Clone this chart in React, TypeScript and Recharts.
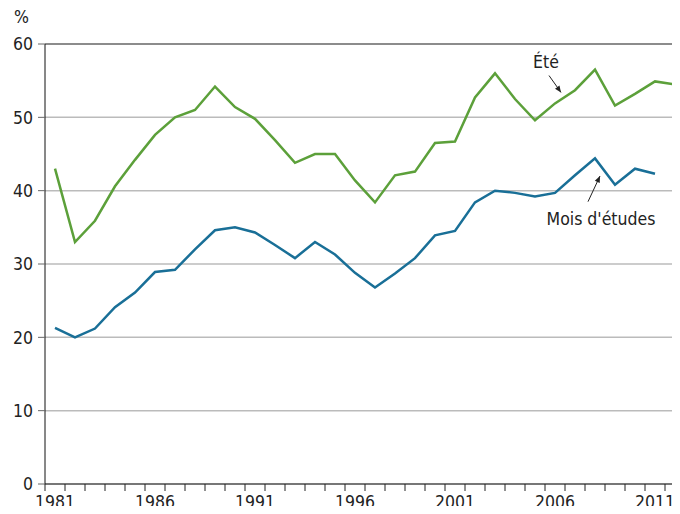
import { LineChart, Line, XAxis, YAxis, CartesianGrid, ReferenceLine, ReferenceDot } from "recharts";

// années de référence
const years = [
  1981, 1982, 1983, 1984, 1985, 1986, 1987, 1988, 1989, 1990, 1991, 1992, 1993, 1994, 1995, 1996,
  1997, 1998, 1999, 2000, 2001, 2002, 2003, 2004, 2005, 2006, 2007, 2008, 2009, 2010, 2011, 2012,
];
const ete = [
  43.0, 33.0, 35.9, 40.6, 44.2, 47.6, 50.0, 51.0, 54.2, 51.4, 49.8, 46.9, 43.8, 45.0, 45.0, 41.4,
  38.4, 42.1, 42.6, 46.5, 46.7, 52.7, 56.0, 52.5, 49.6, 51.9, 53.7, 56.5, 51.6, 53.2, 54.9, 54.5,
];
const moisEtudes = [
  21.3, 20.0, 21.2, 24.1, 26.1, 28.9, 29.2, 32.0, 34.6, 35.0, 34.3, 32.6, 30.8, 33.0, 31.3, 28.8,
  26.8, 28.7, 30.8, 33.9, 34.5, 38.4, 40.0, 39.7, 39.2, 39.7, 42.1, 44.4, 40.8, 43.0, 42.3, null,
];
const yTicks = [0, 10, 20, 30, 40, 50, 60];
const labelYears = [1981, 1986, 1991, 1996, 2001, 2006, 2011];

const data = years.map((year, i) => ({ year, ete: ete[i], mois: moisEtudes[i] }));

const FONT = "'Liberation Sans Narrow', 'DejaVu Sans Condensed', 'Liberation Sans', sans-serif";
const FS = 17.5;
const GREEN = "#5ca03a";
const BLUE = "#196f97";
const W = 690;
const H = 514;
const Y_W = 45;
const RIGHT = 5;
const HALF = (W - Y_W - RIGHT) / years.length / 2;

function YearTick(props: any) {
  const { x, y, payload } = props;
  return (
    <g>
      <line x1={x - HALF} x2={x - HALF} y1={y} y2={y + 7} stroke="#222" strokeWidth={1} />
      {labelYears.includes(payload.value) && (
        <text x={x} y={y + 24} textAnchor="middle" fontFamily={FONT} fontSize={FS} fill="#222">
          {payload.value}
        </text>
      )}
    </g>
  );
}

function Arrow(props: any) {
  const { x1, y1, x2, y2 } = props;
  const a = Math.atan2(y2 - y1, x2 - x1);
  const len = 7;
  const p1 = [x2 - len * Math.cos(a - 0.4), y2 - len * Math.sin(a - 0.4)];
  const p2 = [x2 - len * Math.cos(a + 0.4), y2 - len * Math.sin(a + 0.4)];
  return (
    <g>
      <line x1={x1} y1={y1} x2={x2} y2={y2} stroke="#222" strokeWidth={1} />
      <polygon points={`${x2},${y2} ${p1[0]},${p1[1]} ${p2[0]},${p2[1]}`} fill="#222" />
    </g>
  );
}

function Note(text: string) {
  return (props: any) => (
    <text x={props.cx} y={props.cy} textAnchor="middle" dominantBaseline="central" fontFamily={FONT} fontSize={FS} fill="#222">
      {text}
    </text>
  );
}

export default function App() {
  return (
    <div style={{ margin: -8, width: 680, height: H, overflow: "hidden", position: "relative", background: "#fff" }}>
      <div style={{ position: "absolute", left: 14, top: 9, fontFamily: FONT, fontSize: FS, color: "#222", lineHeight: 1 }}>%</div>
      <LineChart width={W} height={H} data={data} margin={{ top: 44, right: RIGHT, left: 0, bottom: 0 }}>
        <CartesianGrid vertical={false} stroke="#bbb" strokeWidth={1.5} />
        <XAxis
          dataKey="year"
          type="number"
          domain={[1980.5, 2012.5]}
          ticks={years}
          interval={0}
          tickLine={false}
          tickSize={0}
          tickMargin={0}
          tick={<YearTick />}
          axisLine={{ stroke: "#222" }}
          height={30}
        />
        <YAxis
          domain={[0, 60]}
          ticks={yTicks}
          width={Y_W}
          tickSize={7}
          tickMargin={5}
          tickLine={{ stroke: "#666" }}
          axisLine={{ stroke: "#111" }}
          tick={{ fontFamily: FONT, fontSize: FS, fill: "#222" }}
        />
        <ReferenceLine y={60} stroke="#777" strokeWidth={1.5} />
        <Line dataKey="ete" stroke={GREEN} strokeWidth={2.5} dot={false} isAnimationActive={false} />
        <Line dataKey="mois" stroke={BLUE} strokeWidth={2.5} dot={false} isAnimationActive={false} />
        <ReferenceLine segment={[{ x: 2005.7, y: 55.7 }, { x: 2006.3, y: 53.4 }]} shape={<Arrow />} />
        <ReferenceLine segment={[{ x: 2007.65, y: 38.5 }, { x: 2008.25, y: 42.0 }]} shape={<Arrow />} />
        <ReferenceDot x={2005.55} y={57.6} r={0} shape={Note("Été")} />
        <ReferenceDot x={2008.3} y={36.1} r={0} shape={Note("Mois d'études")} />
      </LineChart>
    </div>
  );
}
